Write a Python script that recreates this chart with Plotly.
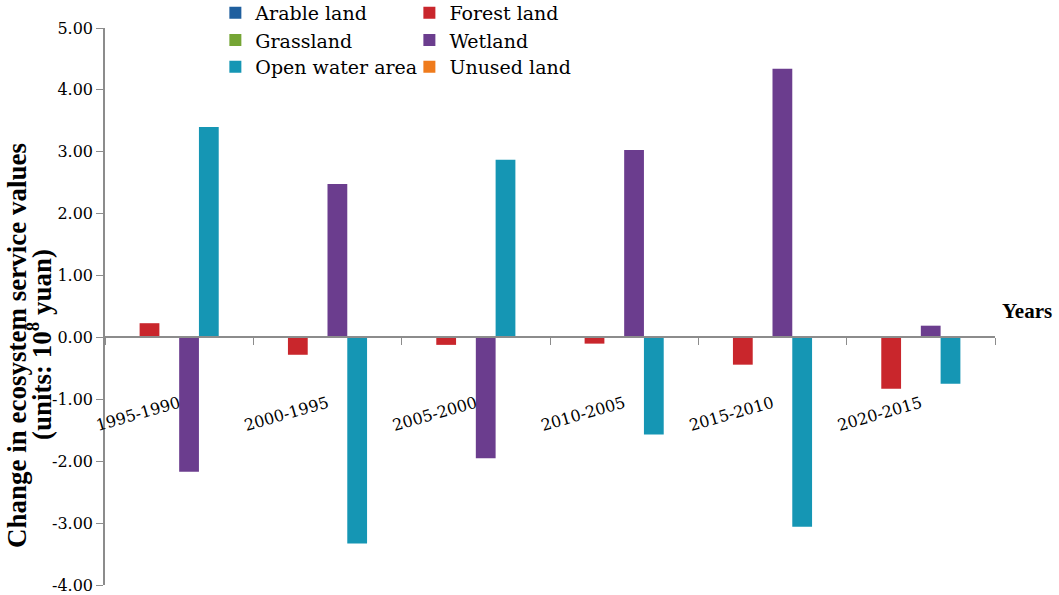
import plotly.graph_objects as go

categories = ["1995-1990", "2000-1995", "2005-2000", "2010-2005", "2015-2010", "2020-2015"]
arable = [0.0, 0.01, 0.0, 0.0, 0.0, 0.0]
forest = [0.23, -0.28, -0.12, -0.10, -0.44, -0.83]
grassland = [0.0, 0.01, 0.0, 0.0, 0.0, 0.0]
wetland = [-2.17, 2.48, -1.95, 3.03, 4.34, 0.19]
open_water = [3.40, -3.33, 2.87, -1.57, -3.06, -0.75]
unused = [0.0, 0.0, 0.0, 0.0, 0.02, 0.0]

y_tickvals = [-4, -3, -2, -1, 0, 1, 2, 3, 4, 5]
y_ticktext = ["-4.00", "-3.00", "-2.00", "-1.00", "0.00", "1.00", "2.00", "3.00", "4.00", "5.00"]

series = [
    ("Arable land", arable, "#1f5f9e"),
    ("Forest land", forest, "#c9262c"),
    ("Grassland", grassland, "#75a534"),
    ("Wetland", wetland, "#6b3d8e"),
    ("Open water area", open_water, "#1596b4"),
    ("Unused land", unused, "#ef7b1c"),
]

BOLD = "Liberation Serif"
REG = "DejaVu Serif"

# legend slot positions (column x, row y) in paper coords
leg_x = [0.124, 0.342]
leg_y = [1.027, 0.978, 0.930]

fig = go.Figure()
legends = {}
for i, (name, vals, color) in enumerate(series):
    key = f"legend{i + 2}"
    fig.add_trace(go.Bar(x=categories, y=vals, name=name, marker_color=color,
                         marker_line_width=0, legend=key))
    col, row = i % 2, i // 2
    legends[key] = dict(x=leg_x[col], y=leg_y[row], xanchor="left", yanchor="middle",
                        font=dict(family=REG, size=19, color="black"),
                        bgcolor="rgba(0,0,0,0)", itemwidth=30)

fig.update_layout(
    width=1059, height=595,
    margin=dict(l=105, r=64, t=28, b=10, autoexpand=False),
    paper_bgcolor="white", plot_bgcolor="white",
    barmode="group", bargap=0.2, bargroupgap=0,
    font=dict(family=REG, size=16, color="black"),
    showlegend=True,
    xaxis=dict(anchor="free", position=4/9, showline=True, linecolor="#8c8c8c",
               linewidth=1.5, ticks="outside", tickson="boundaries", ticklen=7,
               tickcolor="#8c8c8c", tickangle=-16, ticklabelstandoff=50,
               showgrid=False, zeroline=False,
               tickfont=dict(family=REG, size=16, color="black")),
    yaxis=dict(range=[-4, 5], tickvals=y_tickvals, ticktext=y_ticktext, showgrid=False,
               zeroline=False, showline=True, linecolor="#8c8c8c", linewidth=1.5,
               ticks="outside", ticklen=7, tickcolor="#8c8c8c", ticklabeloverflow="allow",
               tickfont=dict(family=REG, size=16, color="black")),
    **legends,
)

fig.add_annotation(text="<b>Change in ecosystem service values</b>", xref="paper", yref="paper",
                   x=-0.0989, y=0.431, xanchor="center", yanchor="middle", textangle=-90,
                   showarrow=False, font=dict(family=BOLD, size=27))
fig.add_annotation(text="<b>(units: 10<sup>8</sup> yuan)</b>", xref="paper", yref="paper",
                   x=-0.074, y=0.431, xanchor="center", yanchor="middle", textangle=-90,
                   showarrow=False, font=dict(family=BOLD, size=27))

fig.add_annotation(text="<b>Years</b>", xref="paper", yref="y", x=1.006, y=0.42,
                   xanchor="left", yanchor="middle", showarrow=False,
                   font=dict(family=BOLD, size=21))

fig.write_html("out.html", config={"displayModeBar": False},
               post_script="document.body.style.margin='0px';document.body.style.overflow='hidden';")
